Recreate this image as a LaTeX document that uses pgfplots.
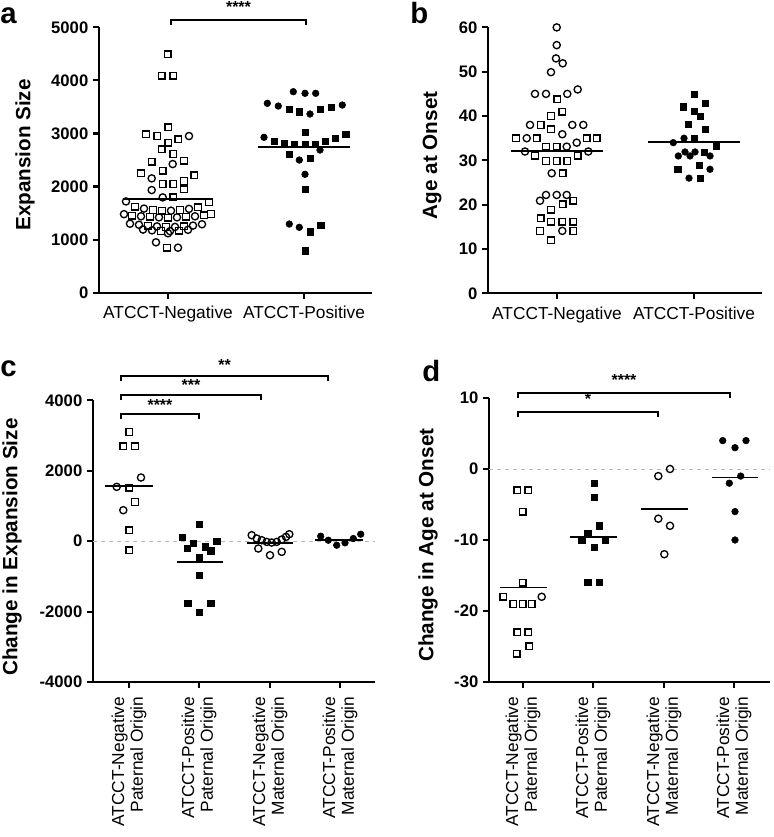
\documentclass[border=0pt]{standalone}
\usepackage{fontspec}
\setmainfont{Liberation Sans}
\usepackage{pgfplots}
\pgfplotsset{compat=1.18}
\pgfplotsset{
  panel/.style={
    scale only axis,
    anchor=south west,
    axis x line*=bottom,
    axis y line*=left,
    axis line style={line width=1.6pt},
    tick style={black, line width=1.6pt},
    major tick length=4.5pt,
    tick align=outside,
    clip=false,
    yticklabel style={font=\bfseries\fontsize{12.5}{12.5}\selectfont},
    xticklabel style={font=\fontsize{13}{14}\selectfont},
    ylabel style={font=\bfseries\fontsize{15.5}{15.5}\selectfont, anchor=center},
  },
  osq/.style={only marks, mark=square, mark size=2.5pt, mark options={draw=black, fill=white, line width=1pt}},
  oci/.style={only marks, mark=o, mark size=2.7pt, mark options={draw=black, fill=white, line width=1pt}},
  fsq/.style={only marks, mark=square*, mark size=2.3pt, mark options={draw=black, fill=black}},
  fci/.style={only marks, mark=*, mark size=2.5pt, mark options={draw=black, fill=black}},
  meanl/.style={black, line width=1.3pt, no marks},
  zerol/.style={gray!55, dashed, line width=0.6pt, no marks},
}
\newcommand{\sigfont}{\bfseries\fontsize{12}{12}\selectfont}
\begin{document}
\begin{tikzpicture}
\path[use as bounding box] (0,0) rectangle (579.75pt,627.75pt);
\node[anchor=base west, font=\bfseries\fontsize{22}{22}\selectfont, inner sep=0pt] at (0pt,609.75pt) {a};
\node[anchor=base west, font=\bfseries\fontsize{22}{22}\selectfont, inner sep=0pt] at (307.5pt,609.75pt) {b};
\node[anchor=base west, font=\bfseries\fontsize{22}{22}\selectfont, inner sep=0pt] at (0pt,345pt) {c};
\node[anchor=base west, font=\bfseries\fontsize{22}{22}\selectfont, inner sep=0pt] at (316.5pt,341.25pt) {d};

% ---------------- panel a
\begin{axis}[panel, at={(74.25pt,408.2pt)}, width=204.75pt, height=199.05pt,
  xmin=99, xmax=372, ymin=0, ymax=5000,
  xtick={168,304}, xticklabels={ATCCT-Negative, ATCCT-Positive}, xticklabel shift=2pt,
  ytick={0,1000,2000,3000,4000,5000}, yticklabels={0,1000,2000,3000,4000,5000},
  ylabel={Expansion Size}, ylabel style={at={(axis description cs:-0.271,0.519)}}]
\addplot[osq] coordinates {(167.7,4490) (161.7,4088) (173.3,4088) (168.3,3115) (146,2983) (157.3,2952) (168.3,2826) (178.3,2889) (161.7,2700) (173.3,2612) (151.7,2468) (184,2487) (162.7,2298) (141,2248) (194.3,2211) (162.7,2047) (173.3,2047) (184,2104) (184,1947) (173.3,1796)
 (209,1710) (135,1620) (153,1560) (162,1545) (180,1560) (198,1610) (132,1450) (150,1430) (168,1415) (186,1430) (204,1460) (211,1480) (148,1265) (166,1240) (184,1250) (161,1165) (179,1170) (167,848)};
\addplot[oci] coordinates {(189,2952) (172.7,2424) (151.7,2154) (151.7,1934) (162.7,1796)
 (126,1720) (144,1585) (171,1545) (189,1580) (124,1480) (141,1440) (159,1420) (177,1420) (195,1440) (130,1300) (139,1280) (157,1250) (175,1240) (193,1265) (202,1290) (143,1190) (152,1175) (170,1160) (188,1185) (168,1120) (156,950) (178,848)};
\addplot[meanl] coordinates {(123,1760) (213,1760)};
\addplot[fci] coordinates {(293.3,3787) (305,3757) (315.7,3757) (267.3,3568) (278.3,3517) (310,3367) (342.3,3536) (264,2928) (320,2688) (299.3,2500) (305,2231) (289.3,1294) (299.3,1232)};
\addplot[fsq] coordinates {(289.3,3455) (299.3,3410) (320,3455) (331,3493) (305,3022) (274,2858) (284.3,2814) (294.3,2796) (305,2796) (315,2796) (325,2858) (335,2909) (345.7,2990) (289.3,2613) (310,2532) (305,1948) (310,1149) (320.7,1275) (305,791)};
\addplot[meanl] coordinates {(258.3,2751) (350,2751)};
\draw[line width=1.2pt] (axis cs:171,5043) -- (axis cs:171,5138) -- (axis cs:306,5138) -- (axis cs:306,5043);
\node[font=\sigfont] at (axis cs:238.5,5380) {****};
\end{axis}

% ---------------- panel b
\begin{axis}[panel, at={(366pt,407.7pt)}, width=205.5pt, height=199.5pt,
  xmin=488, xmax=762, ymin=0, ymax=60,
  xtick={557,694}, xticklabels={ATCCT-Negative, ATCCT-Positive}, xticklabel shift=2pt,
  ytick={0,10,20,30,40,50,60}, yticklabels={0,10,20,30,40,50,60},
  ylabel={Age at Onset}, ylabel style={at={(axis description cs:-0.204,0.519)}}]
\addplot[oci] coordinates {(556.7,60) (556.7,56) (556,53) (562.7,51.9) (551,49.9) (535,45) (546,45) (567.3,45) (577.7,46) (530,38) (562.3,35.9) (572.3,38) (583.3,38) (526.7,35) (576.7,34) (525,32) (566.7,33.1) (588.3,32) (551.7,27.1) (546,22.2) (556.7,22.2) (566.7,22.2) (540,20.9) (562.3,14.1)};
\addplot[osq] coordinates {(557.3,43.8) (562.3,41) (551,40) (540.7,38) (551,37) (516,35) (536.7,35) (586.7,35) (596.7,35) (546,33.1) (556.7,33.1) (535,31.1) (577.7,31.1) (546,29.9) (556.7,29.9) (567.3,29.9) (562.7,27.1) (573.3,20.9) (562.7,20.1) (551,18.9) (540.7,16.9) (551,16.2) (562.3,16.2) (573.3,16.2) (540,14.1) (573.3,14.1) (551,12)};
\addplot[meanl] coordinates {(510.7,32.2) (602.7,32.2)};
\addplot[fsq] coordinates {(694,45) (683.3,42.1) (705,42.9) (694,41) (700,40) (688.3,38.1) (705,37) (694.3,35) (716,33.2) (704,31.9) (677.7,28) (699.3,28.9) (700,26)};
\addplot[fci] coordinates {(673.3,34) (684,35) (678.3,31) (685,31.9) (690,31) (695,31.9) (710,31) (710,28) (689,26)};
\addplot[meanl] coordinates {(648.3,34.1) (740,34.1)};
\end{axis}

% ---------------- panel c
\begin{axis}[panel, at={(69.75pt,116.25pt)}, width=211.5pt, height=211.2pt,
  xmin=93, xmax=375, ymin=-4000, ymax=4000,
  xtick={129,199,270,340},
  xticklabels={{ATCCT-Negative\\Paternal Origin},{ATCCT-Positive\\Paternal Origin},{ATCCT-Negative\\Maternal Origin},{ATCCT-Positive\\Maternal Origin}},
  xticklabel style={rotate=90, anchor=east, align=right}, xticklabel shift=3pt,
  ytick={-4000,-2000,0,2000,4000}, yticklabels={-4000,-2000,0,2000,4000},
  ylabel={Change in Expansion Size}, ylabel style={at={(axis description cs:-0.287,0.479)}}]
\addplot[zerol] coordinates {(93,0) (375,0)};
\addplot[osq] coordinates {(129.3,3106) (123.3,2699) (135,2699) (129.3,1525) (135,1117) (129.3,313) (129.3,-256)};
\addplot[oci] coordinates {(141,1809) (116.7,1544) (123.3,881)};
\addplot[meanl] coordinates {(105,1563) (152.7,1563)};
\addplot[fsq] coordinates {(199.3,470) (182,105) (216.7,10) (193,-70) (187,-190) (205,-160) (210.7,-270) (199.3,-470) (199.3,-966) (187.7,-1752) (210.7,-1752) (199.3,-2008)};
\addplot[meanl] coordinates {(176.7,-587) (222.7,-587)};
\addplot[oci] coordinates {(251.7,170) (256.7,76) (261.7,28) (266.7,-19) (271.7,-38) (276.7,-19) (281.7,47) (286,123) (289.3,199) (258.3,-208) (270,-398) (281.7,-303)};
\addplot[meanl] coordinates {(246.7,-57) (292.7,-57)};
\addplot[fci] coordinates {(320.7,142) (328.3,28) (336.7,-114) (345,-47) (353.3,76) (360.7,199)};
\addplot[meanl] coordinates {(315,28) (363.3,28)};
\draw[line width=1.2pt] (axis cs:121,4544) -- (axis cs:121,4686) -- (axis cs:328,4686) -- (axis cs:328,4544);
\node[font=\sigfont] at (axis cs:224.5,5000) {**};
\draw[line width=1.2pt] (axis cs:121,4004) -- (axis cs:121,4146) -- (axis cs:261,4146) -- (axis cs:261,4004);
\node[font=\sigfont] at (axis cs:191,4440) {***};
\draw[line width=1.2pt] (axis cs:121,3465) -- (axis cs:121,3607) -- (axis cs:199,3607) -- (axis cs:199,3465);
\node[font=\sigfont] at (axis cs:160,3880) {****};
\end{axis}

% ---------------- panel d
\begin{axis}[panel, at={(366.75pt,116.25pt)}, width=210.75pt, height=213pt,
  xmin=489, xmax=770, ymin=-30, ymax=10,
  xtick={523,593,664,734},
  xticklabels={{ATCCT-Negative\\Paternal Origin},{ATCCT-Positive\\Paternal Origin},{ATCCT-Negative\\Maternal Origin},{ATCCT-Positive\\Maternal Origin}},
  xticklabel style={rotate=90, anchor=east, align=right}, xticklabel shift=3pt,
  ytick={-30,-20,-10,0,10}, yticklabels={-30,-20,-10,0,10},
  ylabel={Change in Age at Onset}, ylabel style={at={(axis description cs:-0.217,0.482)}}]
\addplot[zerol] coordinates {(489,0) (770,0)};
\addplot[osq] coordinates {(517.3,-3) (528.3,-3) (522.7,-6) (522.7,-16) (503.3,-18) (513.3,-19) (522.7,-19) (531.7,-19) (517.3,-23) (528.3,-23) (516.7,-26) (529.3,-25)};
\addplot[oci] coordinates {(541.7,-18)};
\addplot[meanl] coordinates {(500,-16.7) (546.7,-16.7)};
\addplot[fsq] coordinates {(594,-2) (594,-4) (599.3,-8) (587.7,-9) (581.7,-10) (605,-10) (594,-11) (587.7,-16) (599.3,-16)};
\addplot[meanl] coordinates {(570,-9.6) (617.3,-9.6)};
\addplot[oci] coordinates {(658.3,-1) (670,0) (658.3,-7) (670,-8) (664.3,-12)};
\addplot[meanl] coordinates {(641,-5.67) (688.3,-5.67)};
\addplot[fci] coordinates {(722.7,4) (735,3) (746,4) (729.3,-2) (740.7,-1) (735,-6) (735,-10)};
\addplot[meanl] coordinates {(711.7,-1.2) (758.3,-1.2)};
\draw[line width=1.2pt] (axis cs:518,10) -- (axis cs:518,10.7) -- (axis cs:730,10.7) -- (axis cs:730,10);
\node[font=\sigfont] at (axis cs:624,12.5) {****};
\draw[line width=1.2pt] (axis cs:518,7.32) -- (axis cs:518,8.03) -- (axis cs:658,8.03) -- (axis cs:658,7.32);
\node[font=\sigfont] at (axis cs:588,9.8) {*};
\end{axis}
\end{tikzpicture}
\end{document}
